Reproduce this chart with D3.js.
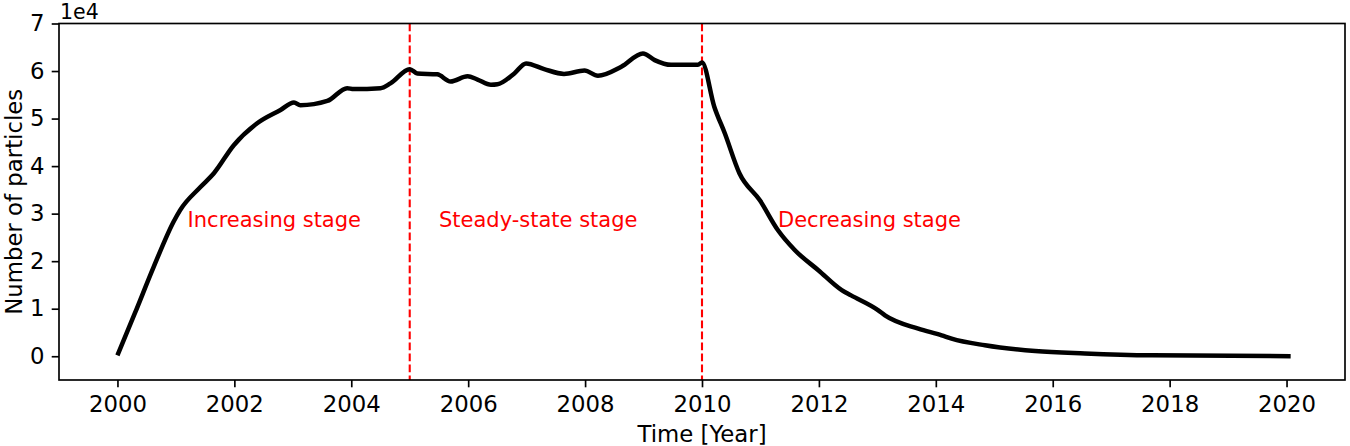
<!DOCTYPE html>
<html>
<head>
  <meta charset="utf-8" />
  <script src="https://d3js.org/d3.v7.min.js"></script>
  <style>
    body, html { margin: 0; background: white; }
    svg text { font-family: "DejaVu Sans", sans-serif; }
  </style>
</head>
<body>
  <svg id="chart" width="1350" height="446"></svg>
  <script>
// time in years, number of particles
var years = [2000.0, 2000.3, 2000.62, 2000.96, 2001.07, 2001.42, 2001.65, 2001.99, 2002.39, 2002.79,
  2003.02, 2003.13, 2003.59, 2003.93, 2004.04, 2004.5, 2004.67, 2005.0, 2005.13, 2005.47,
  2005.7, 2005.99, 2006.16, 2006.39, 2006.5, 2006.79, 2006.99, 2007.3, 2007.64, 2007.99,
  2008.22, 2008.62, 2008.99, 2009.19, 2009.47, 2009.93, 2010.0, 2010.21, 2010.39, 2010.64,
  2010.99, 2011.3, 2011.59, 2011.99, 2012.39, 2012.55, 2013.01, 2013.13, 2013.7, 2014.1,
  2014.27, 2014.84, 2015.7, 2016.55, 2017.7, 2020.07];
var particles = [200, 9100, 18800, 28300, 30700, 35600, 38500, 44400, 49000, 51800,
  53400, 52800, 53700, 56400, 56200, 56400, 57400, 60400, 59500, 59300,
  57800, 58900, 58200, 57100, 57200, 59500, 61600, 60400, 59400, 60100,
  59000, 60900, 63700, 62300, 61300, 61300, 61800, 52500, 46900, 38500,
  32800, 26500, 22300, 18100, 13900, 12800, 9700, 8600, 5800, 4400,
  3700, 2300, 1100, 600, 200, 0];

var stageYears = [2005, 2010];
var stageLabels = ["Increasing stage", "Steady-state stage", "Decreasing stage"];
var stageLabelX = [2001.2, 2005.5, 2011.3];
var stageLabelY = 27200;

var xTicks = [2000, 2002, 2004, 2006, 2008, 2010, 2012, 2014, 2016, 2018, 2020];
var yTicks = [0, 10000, 20000, 30000, 40000, 50000, 60000, 70000];

var fs = 22.8;
var margin = {left: 59, right: 5, top: 23.5, bottom: 66};
var W = 1350, H = 446;
var w = W - margin.left - margin.right, h = H - margin.top - margin.bottom;

var svg = d3.select("#chart");
var g = svg.append("g").attr("transform", "translate(" + margin.left + "," + margin.top + ")");

var x = d3.scaleLinear().domain([1999, 2021]).range([0, w]);
var y = d3.scaleLinear().domain([-5000, 70000]).range([h, 0]);

var data = years.map(function(d, i) { return [d, particles[i]]; });

// stage boundaries
g.selectAll(".vline").data(stageYears).enter().append("line")
  .attr("x1", function(d) { return x(d); }).attr("x2", function(d) { return x(d); })
  .attr("y1", 0).attr("y2", h)
  .attr("stroke", "red").attr("stroke-width", 2.1)
  .attr("stroke-dasharray", "7.7,3.3");

var line = d3.line()
  .x(function(d) { return x(d[0]); })
  .y(function(d) { return y(d[1]); })
  .curve(d3.curveMonotoneX);

g.append("path").datum(data)
  .attr("d", line)
  .attr("fill", "none")
  .attr("stroke", "black")
  .attr("stroke-width", 4.5)
  .attr("stroke-linejoin", "round");

g.selectAll(".stage").data(stageLabels).enter().append("text")
  .attr("x", function(d, i) { return x(stageLabelX[i]); })
  .attr("y", y(stageLabelY))
  .attr("fill", "red")
  .attr("font-size", 21)
  .text(function(d) { return d; });

// axes
var xAxis = g.append("g").attr("transform", "translate(0," + h + ")")
  .call(d3.axisBottom(x).tickValues(xTicks).tickFormat(d3.format("d")).tickSize(7.3).tickSizeOuter(0).tickPadding(8.5));
var yAxis = g.append("g")
  .call(d3.axisLeft(y).tickValues(yTicks).tickFormat(function(d) { return d / 1e4; }).tickSize(7.3).tickSizeOuter(0).tickPadding(7.3));

[xAxis, yAxis].forEach(function(a) {
  a.select(".domain").remove();
  a.selectAll(".tick line").attr("stroke", "black").attr("stroke-width", 1.67);
  a.selectAll(".tick text").attr("fill", "black").attr("font-size", fs).attr("font-family", "DejaVu Sans");
});

g.append("rect").attr("width", w).attr("height", h)
  .attr("fill", "none").attr("stroke", "black").attr("stroke-width", 1.67);

svg.append("text").attr("x", 60).attr("y", 18.5).attr("font-size", 20.5).text("1e4");

svg.append("text")
  .attr("x", margin.left + w / 2).attr("y", 441.5)
  .attr("text-anchor", "middle").attr("font-size", fs)
  .text("Time [Year]");

svg.append("text")
  .attr("transform", "translate(22," + (margin.top + h / 2) + ") rotate(-90)")
  .attr("text-anchor", "middle").attr("font-size", fs)
  .text("Number of particles");
  </script>
</body>
</html>
